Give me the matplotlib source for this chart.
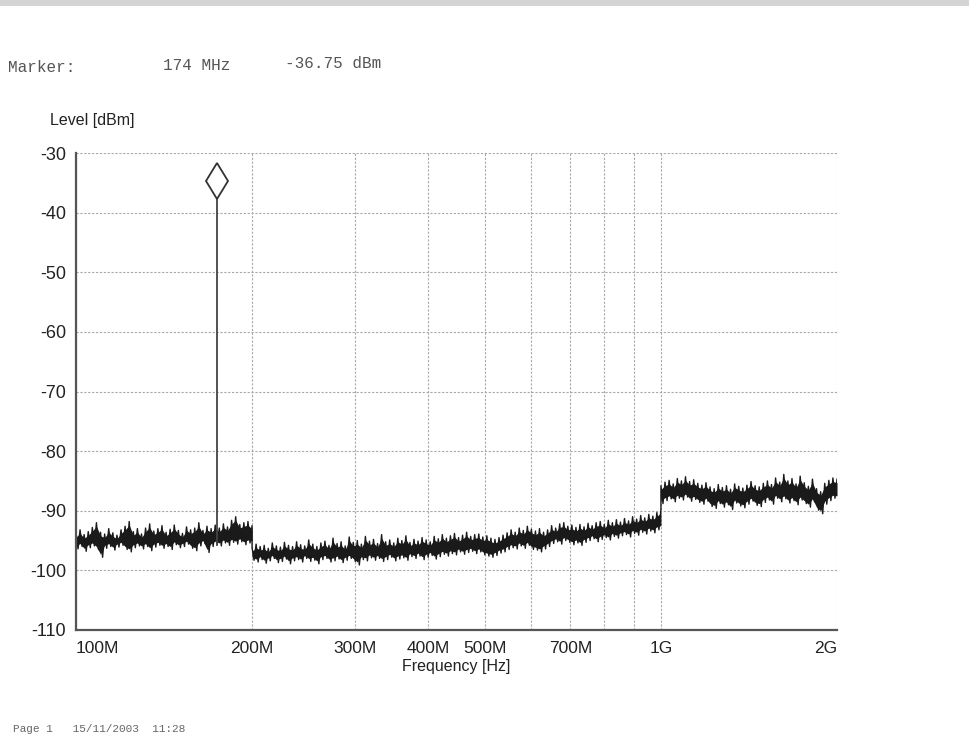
"""Spectrum analyzer sweep printout: 100 MHz - 2 GHz noise floor with marker."""

import numpy as np
import matplotlib

matplotlib.use("Agg")
import matplotlib.pyplot as plt
from matplotlib.patches import Rectangle
from matplotlib.ticker import FixedLocator, NullFormatter
from matplotlib.transforms import offset_copy

# Sweep segments (Hz) and trace envelopes (dBm) read per segment
SEG_EDGES = [100e6, 200e6, 1e9, 2e9]

upper_seg1 = [
    -93.8, -93.2, -94.0, -93.5, -92.8, -92.0, -93.6, -93.9, -93.0, -93.7, -94.1,
    -93.2, -92.6, -91.8, -93.5, -93.0, -93.9, -92.9, -92.2, -93.4, -93.0, -92.5,
    -93.6, -93.1, -92.4, -93.3, -93.8, -92.7, -93.2, -92.9, -92.0, -93.3, -92.6,
    -93.0, -92.4, -92.9, -92.2, -92.7, -91.6, -91.0, -92.3, -92.0, -91.8, -92.5,
]
lower_seg1 = [
    -96.4, -96.0, -96.8, -96.2, -95.9, -96.5, -97.8, -96.3, -96.0, -96.6, -96.1,
    -95.8, -96.5, -96.9, -96.2, -95.9, -96.4, -96.0, -96.7, -96.1, -95.8, -96.3,
    -96.0, -96.5, -95.7, -96.2, -96.0, -95.6, -96.3, -96.7, -95.9, -95.5, -97.0,
    -96.0, -95.6, -95.9, -95.4, -95.8, -95.3, -95.6, -95.2, -95.7, -95.4, -95.6,
]

upper_seg2 = [
    -96.2, -95.6, -96.0, -95.8, -96.3, -95.4, -95.9, -96.1, -95.3, -95.8,
    -96.0, -95.2, -95.7, -95.9, -94.9, -95.6, -96.0, -95.4, -95.1, -95.8,
    -94.6, -95.5, -95.2, -95.9, -94.4, -95.3, -95.0, -95.6, -94.3, -95.1,
    -94.8, -95.5, -94.0, -95.2, -94.9, -95.4, -94.6, -95.0, -94.2, -95.3,
    -94.8, -95.1, -94.5, -94.9, -95.2, -94.3, -94.7, -94.0, -94.6, -94.2,
    -93.8, -94.5, -94.1, -93.6, -94.3, -94.0, -93.9, -94.4, -94.2, -94.6,
    -94.8, -94.5, -94.1, -93.7, -93.2, -93.6, -92.9, -93.3, -92.6, -93.1,
    -93.4, -93.0, -93.6, -93.2, -92.5, -92.9, -92.2, -92.0, -92.6, -92.4,
    -92.8, -92.3, -92.7, -92.1, -92.5, -92.0, -91.8, -92.3, -91.6, -92.0,
    -91.5, -91.9, -91.3, -91.7, -91.0, -91.4, -90.8, -91.2, -90.6, -90.9,
    -90.3, -89.8,
]
lower_seg2 = [
    -98.3, -98.6, -98.2, -98.8, -98.4, -98.0, -98.7, -98.5, -98.1, -98.9,
    -98.4, -98.2, -98.6, -98.0, -98.5, -98.3, -98.9, -98.2, -98.0, -98.6,
    -98.4, -98.1, -98.7, -98.3, -98.0, -98.5, -99.1, -98.2, -98.4, -97.9,
    -98.3, -98.0, -98.5, -98.2, -97.8, -98.4, -98.1, -97.9, -98.3, -97.7,
    -98.0, -97.6, -98.2, -97.8, -97.5, -98.1, -97.7, -97.3, -97.6, -97.2,
    -97.4, -96.9, -97.3, -97.0, -96.8, -97.2, -96.9, -97.4, -97.6, -97.8,
    -97.5, -97.1, -96.9, -96.5, -96.2, -96.4, -95.9, -96.3, -95.8, -96.5,
    -96.6, -96.9, -96.4, -96.0, -95.5, -95.2, -95.6, -95.0, -95.3, -95.7,
    -95.4, -95.8, -95.3, -95.0, -94.7, -95.2, -94.8, -94.5, -94.9, -94.3,
    -94.6, -94.2, -94.0, -94.4, -93.8, -94.1, -93.6, -93.9, -93.4, -93.7,
    -93.2, -93.0,
]

upper_seg3 = [
    -85.8, -85.2, -84.9, -85.5, -84.6, -85.0, -84.3, -85.1, -84.8, -85.4, -85.7,
    -85.3, -86.0, -86.3, -85.6, -86.1, -85.8, -86.4, -85.5, -85.9, -86.2, -85.7,
    -85.1, -85.8, -86.0, -85.4, -85.0, -85.6, -84.5, -85.2, -83.9, -85.0, -84.6,
    -85.5, -84.2, -85.3, -85.9, -84.7, -86.3, -86.8, -85.4, -84.9, -84.5, -84.7,
]
lower_seg3 = [
    -88.8, -88.3, -88.0, -88.5, -87.9, -88.2, -87.7, -88.4, -88.1, -88.6, -88.9,
    -88.4, -89.3, -89.6, -88.8, -89.4, -89.0, -89.8, -88.7, -89.2, -89.5, -88.9,
    -88.4, -89.1, -89.3, -88.6, -88.2, -88.9, -87.9, -88.5, -88.0, -88.7, -88.3,
    -89.0, -88.2, -88.8, -89.4, -88.5, -89.9, -90.5, -88.9, -88.3, -87.9, -88.0,
]

# Marker readout
marker_freq = 174e6
marker_level = -36.75

# Axis ticks
x_ticks = [100e6, 200e6, 300e6, 400e6, 500e6, 700e6, 1e9, 2e9]
x_tick_labels = ["100M", "200M", "300M", "400M", "500M", "700M", "1G", "2G"]
x_minor_ticks = [600e6, 800e6, 900e6]
y_ticks = [-110, -100, -90, -80, -70, -60, -50, -40, -30]

SANS = "Liberation Sans"
MONO = "Liberation Mono"
GRID_COLOR = "#a8a8a8"
AXIS_COLOR = "#555555"


def build_trace():
    """Join the segment envelopes into one sweep.

    Returns the envelope frequencies plus a zigzag path that alternates
    between the upper and lower readings, the way the analyzer draws
    its sample/peak trace.
    """
    uppers = [upper_seg1, upper_seg2, upper_seg3]
    lowers = [lower_seg1, lower_seg2, lower_seg3]
    freqs, up, lo, zz_f, zz_v = [], [], [], [], []
    for i, (u, l) in enumerate(zip(uppers, lowers)):
        f = np.geomspace(SEG_EDGES[i], SEG_EDGES[i + 1], len(u))
        freqs.append(f)
        up.append(u)
        lo.append(l)
        # lower readings sit halfway between neighbouring upper readings
        f_mid = np.sqrt(f[:-1] * f[1:])
        zf = np.empty(2 * len(f) - 1)
        zv = np.empty(2 * len(f) - 1)
        zf[0::2], zf[1::2] = f, f_mid
        zv[0::2], zv[1::2] = u, l[:-1]
        zz_f.append(zf)
        zz_v.append(zv)
    return (np.concatenate(freqs), np.concatenate(up), np.concatenate(lo),
            np.concatenate(zz_f), np.concatenate(zz_v))


def main():
    fig = plt.figure(figsize=(9.69, 7.46), dpi=100)
    fig.patch.set_facecolor("white")

    # Scanner edge at the top of the sheet
    fig.add_artist(Rectangle((0, 0.992), 1, 0.008, transform=fig.transFigure,
                             facecolor="#d4d4d4", edgecolor="none"))

    ax = fig.add_axes([0.0784, 0.1555, 0.7854, 0.6394])

    freq, upper, lower, zz_freq, zz_level = build_trace()

    # Noise floor: solid core plus the jagged sample trace on top
    core_hi = upper - 0.6
    core_lo = lower + 0.5
    ax.fill_between(freq, core_lo, core_hi, color="#1a1a1a", linewidth=0)
    ax.plot(zz_freq, zz_level, color="#1a1a1a", lw=1.0)

    # Marker spike and diamond
    base = np.interp(marker_freq, freq, lower)
    ax.plot([marker_freq, marker_freq], [base, marker_level], color="#444444", lw=1.3)
    diamond_tf = offset_copy(ax.transData, fig=fig, y=12.5, units="dots")
    ax.plot([marker_freq], [marker_level], marker="d", markersize=18,
            markerfacecolor="white", markeredgecolor="#333333",
            markeredgewidth=1.3, transform=diamond_tf, clip_on=False)

    # Axes formatting
    ax.set_xscale("log")
    ax.set_xlim(SEG_EDGES[0], SEG_EDGES[-1])
    ax.set_ylim(-110, -30)

    ax.xaxis.set_major_locator(FixedLocator(x_ticks))
    ax.xaxis.set_minor_locator(FixedLocator(x_minor_ticks))
    ax.xaxis.set_minor_formatter(NullFormatter())
    ax.set_xticklabels(x_tick_labels, fontsize=12.5, family=SANS, color="#222222")
    labels = ax.get_xticklabels()
    labels[0].set_ha("left")
    labels[-1].set_ha("right")

    ax.set_yticks(y_ticks)
    ax.set_yticklabels([str(v) for v in y_ticks], fontsize=13, family=SANS,
                       color="#222222")

    ax.tick_params(axis="both", which="both", length=0)
    ax.tick_params(axis="x", pad=8)
    ax.tick_params(axis="y", pad=7)

    ax.grid(True, which="both", color=GRID_COLOR, linestyle=(0, (2, 1.5)), lw=0.8)
    ax.set_axisbelow(True)

    for side in ("top", "right"):
        ax.spines[side].set_visible(False)
    for side in ("left", "bottom"):
        ax.spines[side].set_color(AXIS_COLOR)
        ax.spines[side].set_linewidth(1.6)

    ax.set_xlabel("Frequency [Hz]", fontsize=11.5, family=SANS, color="#222222",
                  labelpad=2)

    # Header and footer text
    fig.text(50 / 969, 1 - 120 / 746, "Level [dBm]", fontsize=11.5, family=SANS,
             color="#222222", va="center", ha="left")
    mono = dict(family=MONO, fontsize=11.5, color="#555555", va="center", ha="left")
    fig.text(8 / 969, 1 - 68 / 746, "Marker:", **mono)
    fig.text(163 / 969, 1 - 66 / 746, "174 MHz", **mono)
    fig.text(285 / 969, 1 - 64 / 746, "-36.75 dBm", **mono)
    fig.text(13 / 969, 1 - 729 / 746, "Page 1   15/11/2003  11:28",
             family=MONO, fontsize=8, color="#666666", va="center", ha="left")

    fig.savefig("out.png", dpi=100)
    plt.close(fig)


if __name__ == "__main__":
    main()
